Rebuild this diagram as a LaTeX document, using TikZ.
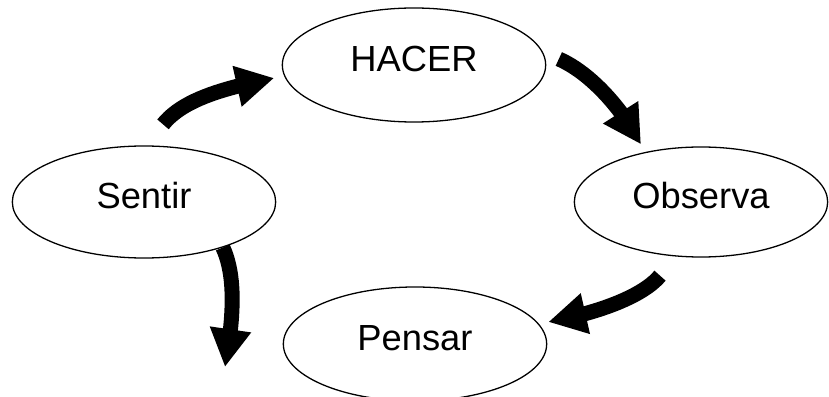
\documentclass[tikz,border=0pt]{standalone}
\usepackage{fontspec}
\setmainfont{Liberation Sans}
\usepackage{tikz}
\usetikzlibrary{shapes.geometric,arrows.meta,bending}

\begin{document}
\begin{tikzpicture}[x=0.03cm,y=-0.03cm,
    etapa/.style={ellipse,draw,line width=1.1pt,inner sep=0pt,
        text height=0.78cm,text depth=0.36cm,
        font=\fontsize{31}{37}\selectfont},
    flecha/.style={line width=12.8pt,
        -{Triangle[length=1.14cm,width=1.17cm,flex]}}]
    \useasboundingbox (0,0) rectangle (829,397);
    \node[etapa,minimum width=7.9cm,minimum height=3.42cm] (hacer)   at (414,65)  {HACER};
    \node[etapa,minimum width=7.9cm,minimum height=3.36cm] (sentir)  at (144,202) {Sentir};
    \node[etapa,minimum width=7.6cm,minimum height=3.3cm]  (observa) at (701,202) {Observa};
    \node[etapa,minimum width=7.9cm,minimum height=3.42cm] (pensar)  at (415,344) {Pensar};
    \coordinate (abajo) at (225,367);
    \draw[flecha] ([shift={(19,-21)}]sentir.north)
        .. controls +(20,-25) and +(-50,10) .. ([shift={(-7.5,13)}]hacer.west);
    \draw[flecha] ([shift={(12.5,-6)}]hacer.east)
        .. controls +(30,13) and +(-20,-38) .. ([shift={(-60,-2)}]observa.north);
    \draw[flecha] ([shift={(-41,18)}]observa.south)
        .. controls +(-18,22) and +(45,-8) .. ([shift={(1,-22)}]pensar.east);
    \draw[flecha] (sentir.-30)
        .. controls +(14,30) and +(8,-45) .. (abajo);
\end{tikzpicture}
\end{document}
